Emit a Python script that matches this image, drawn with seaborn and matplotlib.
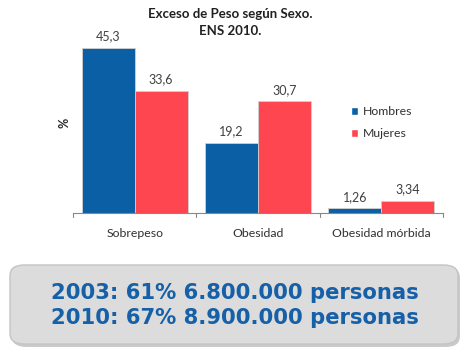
import matplotlib
matplotlib.use("Agg")
import matplotlib.pyplot as plt
import seaborn as sns
import pandas as pd
from matplotlib.patches import FancyBboxPatch

# data
categorias = ["Sobrepeso", "Obesidad", "Obesidad mórbida"]
hombres = [45.3, 19.2, 1.26]
mujeres = [33.6, 30.7, 3.34]
etiquetas_h = ["45,3", "19,2", "1,26"]
etiquetas_m = ["33,6", "30,7", "3,34"]
resumen = ["2003: 61% 6.800.000 personas", "2010: 67% 8.900.000 personas"]

df = pd.DataFrame({
    "categoria": categorias * 2,
    "sexo": ["Hombres"] * 3 + ["Mujeres"] * 3,
    "valor": hombres + mujeres,
})

sns.set_style("white")
plt.rcParams["font.family"] = ["Lato", "DejaVu Sans"]

BLUE = "#0b5fa5"
RED = "#fe4651"

fig = plt.figure(figsize=(4.69, 3.51), dpi=100)
ax = fig.add_axes([73 / 469, 1 - 213 / 351, 370 / 469, 180 / 351])

sns.barplot(data=df, x="categoria", y="valor", hue="sexo",
            palette=[BLUE, RED], width=0.86, saturation=1, ax=ax, legend=True)

for cont, labs in zip(ax.containers, [etiquetas_h, etiquetas_m]):
    for bar in cont:
        bar.set_edgecolor("#d0d0d0")
        bar.set_linewidth(0.6)
    ax.bar_label(cont, labels=labs, padding=4, fontsize=9, color="#404040")

ax.set_ylim(0, 180 / 3.64)
ax.set_xlim(-0.5, 2.5)
ax.set_yticks([])
ax.set_xlabel("")
ax.set_ylabel("%", fontsize=9, fontweight="bold", labelpad=2)
ax.tick_params(axis="x", labelsize=8.8, colors="#303030", pad=11, length=0)
for s in ["top", "right", "left"]:
    ax.spines[s].set_visible(False)
ax.spines["bottom"].set_color("#888888")
# small tick marks at group boundaries
for xb in [-0.5, 0.5, 1.5, 2.5]:
    ax.plot([xb, xb], [0, -1.2], color="#888888", lw=0.8, clip_on=False)

leg = ax.legend(loc="upper left", bbox_to_anchor=(345 / 469, 1 - 100 / 351),
                bbox_transform=fig.transFigure, frameon=False, fontsize=8.8,
                handlelength=0.6, handleheight=0.6, handletextpad=0.4,
                labelspacing=0.9, borderpad=0)
for t in leg.get_texts():
    t.set_color("#303030")

fig.text(230 / 469, 1 - 14 / 351, "Exceso de Peso según Sexo.", ha="center",
         va="center", fontsize=9.5, fontweight="bold", color="#202020")
fig.text(230 / 469, 1 - 31 / 351, "ENS 2010.", ha="center",
         va="center", fontsize=9.5, fontweight="bold", color="#202020")

# summary box
shadow = FancyBboxPatch((12 / 469, 1 - 347 / 351), 448 / 469, 80 / 351,
                        boxstyle="round,pad=0,rounding_size=0.03",
                        transform=fig.transFigure, facecolor="#a8a8a8",
                        edgecolor="none", alpha=0.6)
box = FancyBboxPatch((10 / 469, 1 - 344 / 351), 448 / 469, 79 / 351,
                     boxstyle="round,pad=0,rounding_size=0.03",
                     transform=fig.transFigure, facecolor="#dcdcdc",
                     edgecolor="#c4c4c4", linewidth=1)
fig.patches.extend([shadow, box])
fig.text(235 / 469, 1 - 293 / 351, resumen[0], ha="center", va="center",
         fontsize=15.2, fontweight="bold", color="#1660a8", family="DejaVu Sans")
fig.text(235 / 469, 1 - 318 / 351, resumen[1], ha="center", va="center",
         fontsize=15.2, fontweight="bold", color="#1660a8", family="DejaVu Sans")

fig.savefig("out.png", dpi=100)
